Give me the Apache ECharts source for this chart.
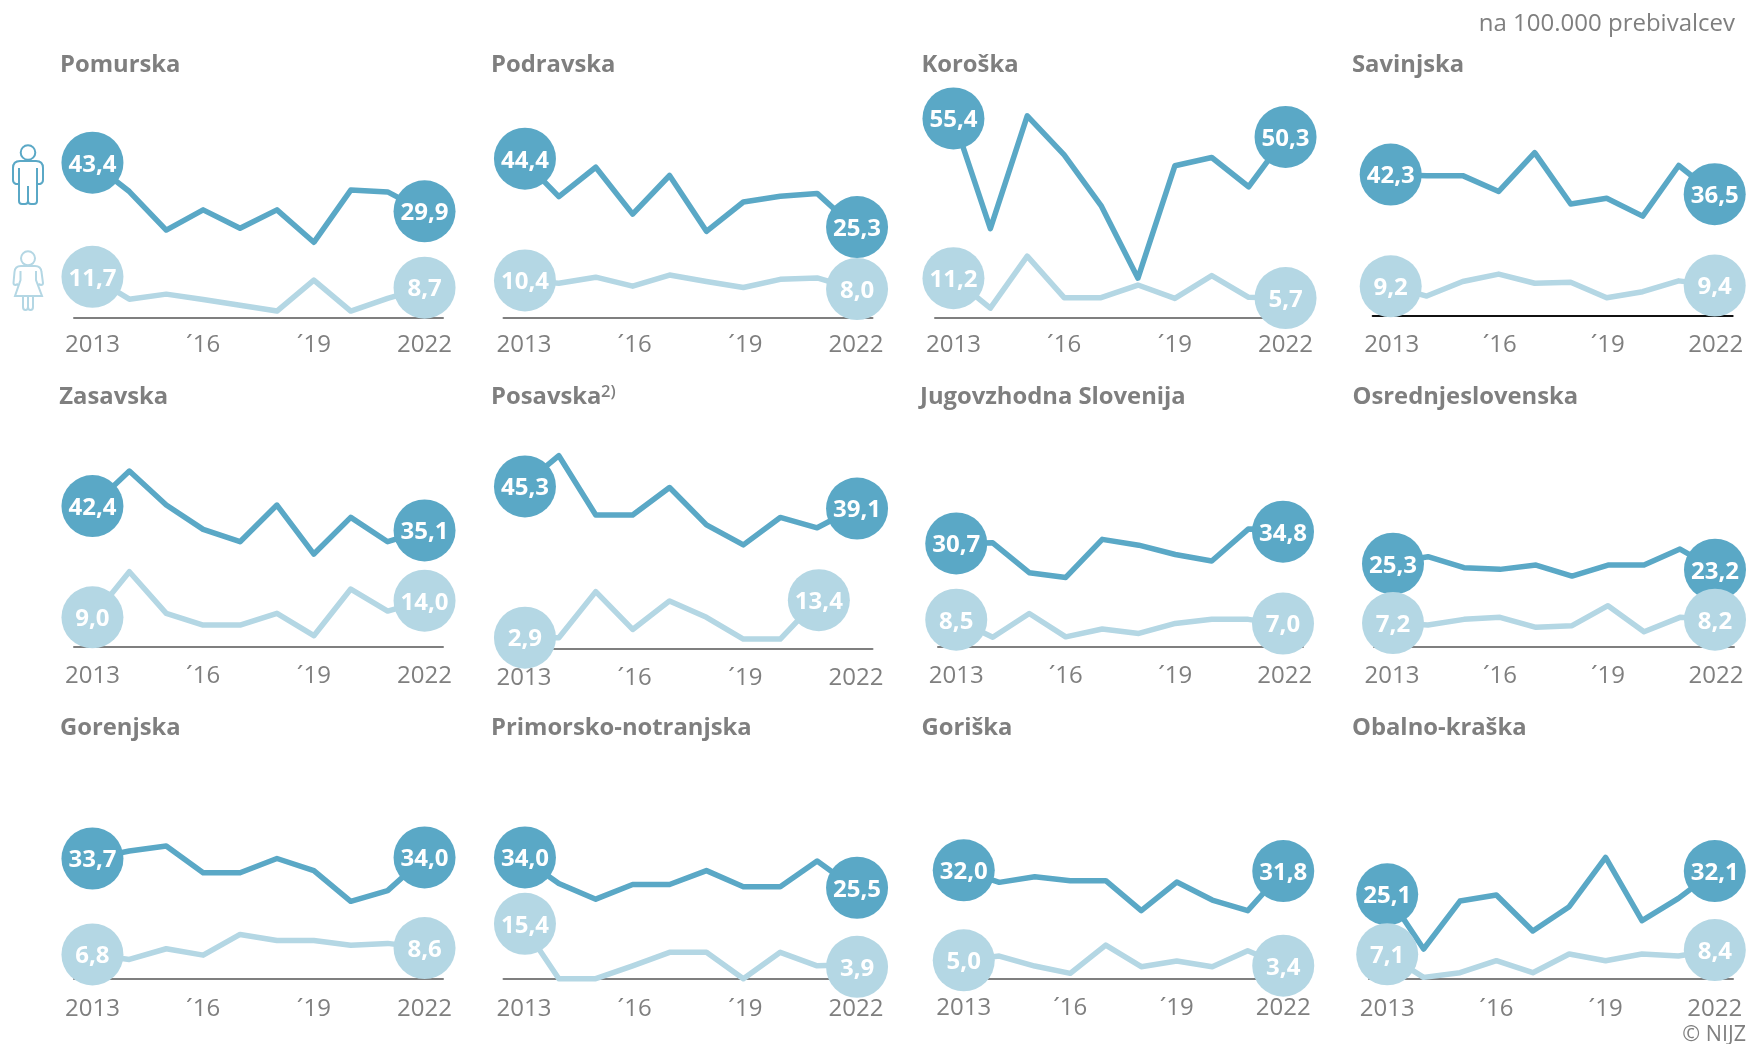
<!DOCTYPE html>
<html>
<head>
<meta charset="utf-8">
<style>html,body{margin:0;padding:0;background:#fff}#c{width:1749px;height:1044px}</style>
<script src="https://cdn.jsdelivr.net/npm/echarts@6/dist/echarts.min.js"></script>
</head>
<body>
<div id="c"></div>
<script>
const years = ['2013','2014','2015','2016','2017','2018','2019','2020','2021','2022'];
const tickLabels = ['2013','','','´16','','','´19','','','2022'];
const unitText = 'na 100.000 prebivalcev';
const copyrightText = '© NIJZ';

const pomurskaMen = [43.4,35.4,24.7,30.3,25.2,30.3,21.3,35.8,35.3,29.9];
const pomurskaWomen = [11.7,5.5,6.9,5.4,3.8,2.2,10.8,2.2,5.7,8.7];
const podravskaMen = [44.4,33.8,42.0,28.9,39.7,24.1,32.3,33.9,34.7,25.3];
const podravskaWomen = [10.4,9.6,11.3,8.8,11.9,10.1,8.4,10.7,11.1,8.0];
const koroskaMen = [55.4,24.9,56.1,45.3,31.3,11.2,42.3,44.6,36.5,50.3];
const koroskaWomen = [11.2,2.9,17.3,5.8,5.8,9.3,5.6,11.9,5.9,5.7];
const savinjskaMen = [42.3,42.0,42.0,37.3,48.8,33.6,35.3,30.0,45.0,36.5];
const savinjskaWomen = [9.2,6.3,10.6,12.8,10.1,10.4,5.8,7.6,10.8,9.4];
const zasavskaMen = [42.4,52.9,42.7,35.4,31.7,42.7,28.0,39.0,31.7,35.1];
const zasavskaWomen = [9.0,22.7,10.2,6.7,6.7,10.2,3.5,17.5,10.9,14.0];
const posavskaMen = [45.3,53.9,37.3,37.3,45.0,34.5,28.9,36.6,33.7,39.1];
const posavskaWomen = [2.9,2.9,15.8,5.2,13.2,8.6,2.5,2.5,13.4,null];
const jugovzhodnaMen = [30.7,30.9,22.2,20.8,31.9,30.2,27.5,25.6,34.9,34.8];
const jugovzhodnaWomen = [8.5,3.4,10.3,3.5,5.8,4.5,7.4,8.6,8.6,7.0];
const osrednjeMen = [25.3,27.1,23.8,23.3,24.6,21.3,24.6,24.6,29.4,23.2];
const osrednjeWomen = [7.2,6.6,8.3,8.9,5.9,6.4,12.4,4.6,8.9,8.2];
const gorenjskaMen = [33.7,35.8,37.2,29.7,29.7,33.7,30.3,21.7,24.7,34.0];
const gorenjskaWomen = [6.8,5.4,8.4,6.6,12.4,10.7,10.7,9.4,9.9,8.6];
const primorskoMen = [34.0,26.7,22.3,26.4,26.4,30.3,25.8,25.8,33.0,25.5];
const primorskoWomen = [15.4,0,0,3.6,7.4,7.4,0,7.4,3.6,3.9];
const goriskaMen = [32.0,28.4,30.1,28.9,28.9,19.9,28.5,23.1,19.9,31.8];
const goriskaWomen = [5.0,6.3,3.3,1.1,9.6,3.1,4.8,3.1,7.9,3.4];
const obalnoMen = [25.1,8.7,23.1,24.9,14.1,21.4,36.2,17.2,23.9,32.1];
const obalnoWomen = [7.1,0.2,1.6,5.2,1.6,7.2,5.2,7.2,6.6,8.4];

const panels = [
  {name:'Pomurska', men:pomurskaMen, women:pomurskaWomen, left:74, width:369, axisY:317.3, k:3.6, gap:1.67, tx:60, ty:65, tick:27.7},
  {name:'Podravska', men:podravskaMen, women:podravskaWomen, left:503.5, width:369, axisY:317.3, k:3.58, gap:0.33, tx:491, ty:65, tick:27.7, tickPad:4, nudge:{m0:[3,0],m9:[3,0],f0:[3,0],f9:[3,0]}},
  {name:'Koroška', men:koroskaMen, women:koroskaWomen, left:935, width:369, axisY:317.3, k:3.613, gap:1.33, tx:921.5, ty:65, tick:27.7},
  {name:'Savinjska', men:savinjskaMen, women:savinjskaWomen, left:1372.7, width:360, axisY:315.3, k:3.373, gap:2, tx:1352, ty:65, tick:30, tickPad:2, axisColor:'#111111'},
  {name:'Zasavska', men:zasavskaMen, women:zasavskaWomen, left:74, width:369, axisY:646.7, k:3.333, gap:0.67, tx:59.3, ty:397.7, tick:29.7},
  {name:'Posavska', men:posavskaMen, women:posavskaWomen, left:503.5, width:369, axisY:649, k:3.567, gap:-1, tx:491, ty:397.7, tick:29, tickPad:4, nudge:{m0:[3,0],m9:[3,0],f0:[3,0],f9:[1.7,0]}},
  {name:'Jugovzhodna Slovenija', men:jugovzhodnaMen, women:jugovzhodnaWomen, left:938, width:365, axisY:646.7, k:3.433, gap:2.17, tx:920, ty:397.7, tick:29.7, nudge:{m9:[-1.75,2.3],f9:[-1.75,-1.3]}},
  {name:'Osrednjeslovenska', men:osrednjeMen, women:osrednjeWomen, left:1374, width:360, axisY:646.7, k:3.333, gap:0.33, tx:1352.5, ty:397.7, tick:29.7, nudge:{m0:[1,1],f0:[1,0],m9:[-1,0],f9:[-1,0]}},
  {name:'Gorenjska', men:gorenjskaMen, women:gorenjskaWomen, left:74, width:369, axisY:978.7, k:3.567, gap:0, tx:60, ty:728.7, tick:30.7},
  {name:'Primorsko-notranjska', men:primorskoMen, women:primorskoWomen, left:503.5, width:369, axisY:978.7, k:3.567, gap:0, tx:491, ty:728.7, tick:30.7, tickPad:4, nudge:{m0:[3,0],m9:[3,0],f0:[3,0],f9:[3,2]}},
  {name:'Goriška', men:goriskaMen, women:goriskaWomen, left:946, width:355, axisY:978.7, k:3.333, gap:-1.67, tx:921.5, ty:728.7, tick:29.5},
  {name:'Obalno-kraška', men:obalnoMen, women:obalnoWomen, left:1369, width:364, axisY:978.7, k:3.333, gap:-0.67, tx:1352, ty:728.7, tick:30}
];

const DARK = '#5AA8C6', LIGHT = '#B4D7E4', GRAY = '#7F7F7F';
const FONT = '"Open Sans", sans-serif';
const GRID_H = 240;

function endpoints(values) {
  let last = values.length - 1;
  while (values[last] == null) last--;
  return [0, last];
}
function seriesData(values, nudgeFirst, nudgeLast) {
  const [a, b] = endpoints(values);
  return values.map((v, i) => {
    if (i !== a && i !== b) return {value: v, symbol: 'none', label: {show: false}};
    const off = (i === a ? nudgeFirst : nudgeLast) || [0, 0];
    return {
      value: v, symbol: 'circle', symbolSize: 62, symbolOffset: off,
      label: {show: true, position: 'inside', offset: [0, 2], color: '#fff', fontFamily: FONT, fontWeight: 700, fontSize: 24,
        formatter: p => p.value.toFixed(1).replace('.', ',')}
    };
  });
}

const grid = [], xAxis = [], yAxis = [], series = [], title = [];
panels.forEach((p, i) => {
  grid.push({left: p.left, width: p.width, top: p.axisY - GRID_H, height: GRID_H, containLabel: false});
  xAxis.push({type: 'category', gridIndex: i, data: years, boundaryGap: true,
    axisTick: {show: false}, splitLine: {show: false},
    axisLine: {show: true, onZero: false, lineStyle: {color: p.axisColor || GRAY, width: 2}},
    axisLabel: {show: true, interval: 0, hideOverlap: false, color: GRAY, fontFamily: FONT, fontSize: 24, margin: p.tick - 12,
      padding: [0, 0, 0, p.tickPad || 0],
      formatter: (val, idx) => tickLabels[idx]}});
  const yMin = p.gap / p.k;
  yAxis.push({type: 'value', gridIndex: i, show: false, min: yMin, max: yMin + GRID_H / p.k, splitLine: {show: false}});
  const n = p.nudge || {};
  series.push({type: 'line', name: p.name + ' moški', xAxisIndex: i, yAxisIndex: i, clip: false, showSymbol: true, showAllSymbol: true,
    lineStyle: {color: DARK, width: 5.5, join: 'round'}, itemStyle: {color: DARK, opacity: 1}, z: 3, silent: true,
    data: seriesData(p.men, n.m0, n.m9)});
  series.push({type: 'line', name: p.name + ' ženske', xAxisIndex: i, yAxisIndex: i, clip: false, showSymbol: true, showAllSymbol: true,
    lineStyle: {color: LIGHT, width: 5.5, join: 'round'}, itemStyle: {color: LIGHT, opacity: 1}, z: 4, silent: true,
    data: seriesData(p.women, n.f0, n.f9)});
  title.push({text: p.name, left: p.tx, top: p.ty - 15, padding: 0,
    textStyle: {color: GRAY, fontFamily: FONT, fontWeight: 700, fontSize: 23.8, lineHeight: 30}});
});
title.push({text: '2)', left: 601, top: 383, padding: 0,
  textStyle: {color: GRAY, fontFamily: FONT, fontWeight: 600, fontSize: 16.5, lineHeight: 18}});

echarts.graphic.registerShape('iconMan', echarts.graphic.extendPath('M19 168L19 201Q19 204 22 204L25 204Q28 204 28 201L28 186M28 201Q28 204 31 204L34 204Q37 204 37 201L37 168M19 184L16 184Q13 183 13 180L13 168Q13 161 20 161L36 161Q43 161 43 168L43 180Q43 183 40 184L37 184', {}));
echarts.graphic.registerShape('iconWoman', echarts.graphic.extendPath('M21 266L35 266Q41 266 41.5 272L43 283Q43 285 41 285L38.5 284M21 266Q15 266 14.5 272L13.5 283Q13.5 285 15.5 285L18 284M20.5 271L20.5 280L15 296L42 296L36 280L36 271M23 296L23 307Q23 310 25.5 310Q28 310 28 307L28 296M28 307Q28 310 30.5 310Q33 310 33 307L33 296', {}));

const graphic = [
  {type: 'text', right: 14, top: 12, style: {text: unitText, fill: GRAY, font: '24px ' + FONT}},
  {type: 'text', right: 3, top: 1024, style: {text: copyrightText, fill: GRAY, font: '21.5px ' + FONT}},
  {type: 'circle', shape: {cx: 28, cy: 152.5, r: 7.3}, style: {fill: 'none', stroke: DARK, lineWidth: 2}},
  {type: 'iconMan', style: {fill: 'none', stroke: DARK, lineWidth: 2}},
  {type: 'circle', shape: {cx: 28, cy: 258.3, r: 7}, style: {fill: 'none', stroke: LIGHT, lineWidth: 2}},
  {type: 'iconWoman', style: {fill: 'none', stroke: LIGHT, lineWidth: 2}}
];

const chart = echarts.init(document.getElementById('c'), null, {renderer: 'canvas'});
chart.setOption({animation: false, backgroundColor: '#fff', title, grid, xAxis, yAxis, series, graphic, tooltip: {show: false}, legend: {show: false}});
</script>
</body>
</html>
